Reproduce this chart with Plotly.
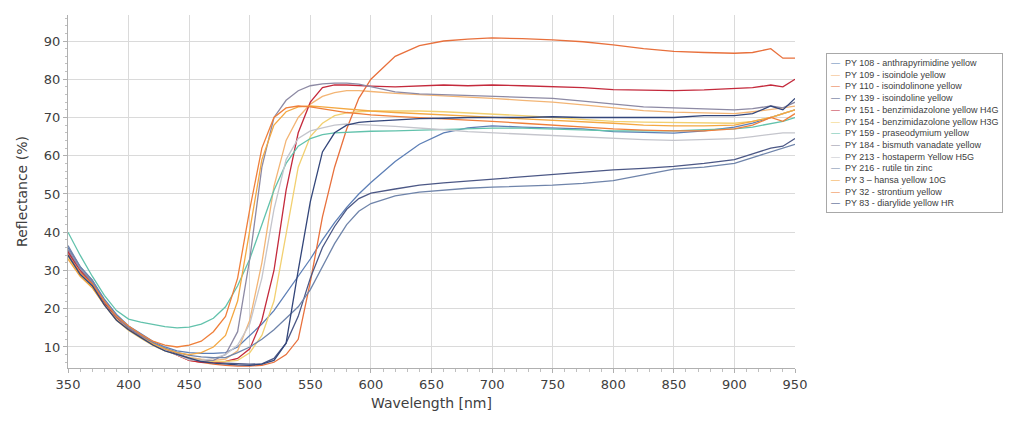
import plotly.graph_objects as go

wavelength = [350,360,370,380,390,400,410,420,430,440,450,460,470,480,490,500,510,520,530,540,
              550,560,570,580,590,600,620,640,660,680,700,725,750,775,800,825,850,875,900,915,930,940,950]

series_names = [
    "PY 108 - anthrapyrimidine yellow",
    "PY 109 - isoindole yellow",
    "PY 110 - isoindolinone yellow",
    "PY 139 - isoindoline yellow",
    "PY 151 - benzimidazolone yellow H4G",
    "PY 154 - benzimidazolone yellow H3G",
    "PY 159 - praseodymium yellow",
    "PY 184 - bismuth vanadate yellow",
    "PY 213 - hostaperm Yellow H5G",
    "PY 216 - rutile tin zinc",
    "PY 3 \u2013 hansa yellow 10G",
    "PY 32 - strontium yellow",
    "PY 83 - diarylide yellow HR",
]

py108 = [36,31,27.5,22.5,18.5,15.5,13.5,11.5,10,9,8.5,8.3,8.3,8.5,10,13,16,19.5,24,28.5,
         33,38,42.5,46.5,50,53,58.5,63,66,67.3,67.8,67.5,67.3,67,66.3,66,65.9,66.5,67.5,68.5,70,71,72]
py109 = [34,29,26,21.5,17.5,14.5,12.5,10.5,9.2,8.2,7.3,6.8,6.5,6.8,9,17,32,52,64,70,
         73.5,75.5,76.5,77,77,76.8,76.3,76,75.7,75.3,75,74.5,74,73.3,72.5,71.8,71.4,71.2,71,71.5,72,72.5,73]
py110 = [34.5,29.5,26.5,21.5,17.5,14.8,12.6,10.8,9.3,8,6.5,6,5.5,5.2,5,5,5.2,6,8,12,
         27,44,57,67,75,80,86,88.8,90,90.5,90.8,90.6,90.3,89.8,89,88,87.3,87,86.8,87,88,85.5,85.5]
py139 = [35,30,27,21.5,17.5,14.8,12.7,10.8,9.4,8.3,7,6.5,6,5.8,5.6,5.5,5.6,7,11,18,
         28,36,41.5,46,48.8,50.2,51.3,52.3,52.9,53.4,53.9,54.5,55,55.8,56.3,56.7,57.2,58,59,60.5,62,62.5,64.5]
py151 = [35,30,26.5,21.5,17.5,14.6,12.6,10.7,9.3,8,6.5,6,6,6.2,7,9.5,17,30,51,66,
         74,77.8,78.5,78.5,78.3,78.2,78,78.3,78.5,78.3,78.5,78.3,78,77.8,77.3,77.2,77,77.2,77.5,77.8,78.5,78,80]
py154 = [33.5,29,25.5,21,17,14.3,12.3,10.4,9,7.9,7,6.5,6.2,6.2,6.5,8.5,13,22,40,57,
         65,68.5,70.5,71.2,71.5,71.7,71.7,71.7,71.5,71.2,71,70.5,70,69.5,69,68.8,68.7,68.5,68.5,69,70,71,72]
py159 = [40,34,28.5,23.5,19.5,17.3,16.5,15.8,15.3,15,15.2,16,17.5,20.5,26,33,42,51,58,62.5,
         64.5,65.5,66,66.2,66.3,66.4,66.5,66.7,66.8,67,67.2,67.2,67,66.8,66.5,66.5,66.5,66.8,67,67.5,68.5,69,70]
py184 = [35.5,30.5,27,22,18,15,13,11,9.6,8.5,6.8,6.3,6.5,8,14,33,57,70,74.5,77,
         78.3,78.8,79,79,78.7,78,76.7,76.2,76,75.7,75.5,75.2,75,74.3,73.5,72.8,72.5,72.3,72,72.3,73,72.5,74]
py213 = [34,29.5,26,21,17.3,14.5,12.5,10.6,9.2,8,6.6,6.5,7,8,10.5,16,28,46,59,64.5,
         66.5,67.3,68,68.3,68.2,68,67.7,67.3,66.8,66.3,66,65.5,65.2,64.8,64.4,64.2,64,64.2,64.5,65,65.5,66,66]
py216 = [36.5,31,27.5,22,18,15.2,13.2,11.2,9.7,8.6,7.8,7.4,7.2,7.2,8.5,10,12,14.5,17.5,20.5,
         25,31,37,42,45.5,47.5,49.5,50.5,51,51.5,51.8,52,52.3,52.8,53.5,55,56.5,57,58,59.5,61,62,63]
py3 = [33,28.5,25.5,21,17.2,14.5,12.5,10.8,9.5,8.5,8,8.5,10,13,22,41,59,68,71.5,72.8,
       73,72.8,72.5,72.2,72,71.7,71.3,71,70.8,70.5,70.2,69.8,69.4,69,68.5,68,67.8,67.8,68,69,70,71,72]
py32 = [34,29.5,26.5,22,18,15.5,13.3,11.5,10.5,10,10.5,11.5,14,18,28,46,62,70,72.5,73,
        72.8,72.3,71.8,71.3,71,70.7,70.3,70,69.7,69.3,69,68.5,68,67.5,67,66.7,66.5,66.5,67,68,70,69,71]
py83 = [34,29,26,21,17,14.5,12.5,10.5,9,8,7,6.2,5.8,5.5,5.3,5.2,5.5,6.5,11,30,
        48,61,66,68,68.7,69,69.3,69.7,69.8,70,70,70,70.2,70,70,70,70,70.5,70.5,71,73,72,75]

series_values = [py108, py109, py110, py139, py151, py154, py159, py184, py213, py216, py3, py32, py83]
series_colors = ["#5d7fb6", "#f3b575", "#e8703c", "#4c5886", "#c42a3c", "#f2d070", "#62c2ac",
                 "#8d8aa4", "#c4c5cc", "#6f84aa", "#f4a842", "#ef7f3a", "#33467a"]

x_ticks = [350,400,450,500,550,600,650,700,750,800,850,900,950]
y_ticks = [10,20,30,40,50,60,70,80,90]

fig = go.Figure()
for name, vals, col in zip(series_names, series_values, series_colors):
    fig.add_trace(go.Scatter(x=wavelength, y=vals, mode="lines", name=name,
                             line=dict(color=col, width=1.3), showlegend=False))

# compact legend box built from the series names and colours
legend_text = "<br>".join(
    f"<span style='color:{c}'>\u2014</span>  {n}" for n, c in zip(series_names, series_colors)
)
fig.add_annotation(
    xref="paper", yref="paper", x=1.043, y=0.892, xanchor="left", yanchor="top",
    text=legend_text, showarrow=False, align="left",
    font=dict(family="Liberation Sans", size=9, color="#404040"),
    bordercolor="#a8a8a8", borderwidth=1, borderpad=4, bgcolor="white",
)

axis_font = dict(family="DejaVu Sans", size=13, color="#404040")
fig.update_layout(
    width=1024, height=421,
    margin=dict(l=60, r=237, t=7, b=61, autoexpand=False),
    paper_bgcolor="white", plot_bgcolor="white",
    font=dict(family="DejaVu Sans", color="#404040"),
    showlegend=False,
    xaxis=dict(range=[350, 950], tickvals=x_ticks, showgrid=True, gridcolor="#dadada",
               gridwidth=1, showline=True, linecolor="#b0b0b0", ticks="outside",
               ticklen=4, tickcolor="#b0b0b0", tickfont=axis_font, zeroline=False,
               automargin=False,
               minor=dict(dtick=10, ticks="outside", ticklen=3, tickcolor="#c0c0c0", showgrid=False),
               title=dict(text="Wavelength [nm]", font=dict(family="DejaVu Sans", size=14, color="#404040"),
                          standoff=7)),
    yaxis=dict(range=[4.5, 96.8], tickvals=y_ticks, showgrid=True, gridcolor="#dadada",
               gridwidth=1, showline=True, linecolor="#b0b0b0", ticks="outside",
               ticklen=4, tickcolor="#b0b0b0", tickfont=axis_font, zeroline=False,
               automargin=False,
               minor=dict(dtick=2, ticks="outside", ticklen=2, tickcolor="#c0c0c0", showgrid=False),
               title=dict(text="Reflectance (%)", font=dict(family="DejaVu Sans", size=14, color="#404040"),
                          standoff=12)),
)

fig.write_html("out.html")
